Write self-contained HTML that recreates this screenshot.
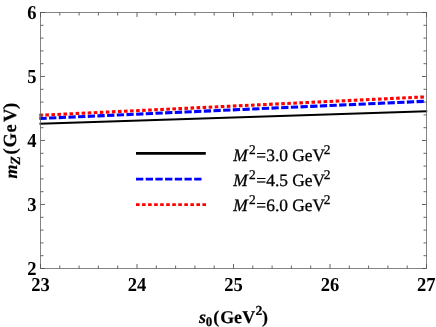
<!DOCTYPE html>
<html>
<head>
<meta charset="utf-8">
<style>
html,body{margin:0;padding:0;background:#fff;}
body{width:436px;height:327px;overflow:hidden;font-family:"Liberation Serif",serif;}
svg{display:block;}
text{font-family:"Liberation Serif",serif;fill:#000;text-rendering:geometricPrecision;}
.tl{font-weight:bold;font-size:19.7px;}
.lb{font-weight:bold;font-size:17.9px;stroke:#000;stroke-width:0.2px;}
.lg{font-size:17.4px;stroke:#000;stroke-width:0.3px;}
</style>
</head>
<body>
<svg width="436" height="327" viewBox="0 0 436 327">
<defs><filter id="sf" x="0" y="0" width="436" height="327" filterUnits="userSpaceOnUse"><feGaussianBlur stdDeviation="0.3"/></filter></defs>
<rect x="0" y="0" width="436" height="327" fill="#fff"/>
<!-- curves -->
<line x1="39.5" y1="123.7" x2="427.2" y2="111.3" stroke="#000" stroke-width="1.9"/>
<line x1="39.4" y1="118.5" x2="424.3" y2="101.32" stroke="#0000ff" stroke-width="3.1" stroke-dasharray="7.3 2.38"/>
<line x1="39.3" y1="115.3" x2="424.6" y2="96.91" stroke="#ff0000" stroke-width="3.1" stroke-dasharray="3.6 2.455"/>
<!-- frame -->
<g filter="url(#sf)">
<rect x="40.5" y="12.5" width="386" height="256" fill="none" stroke="#666" stroke-width="0.8"/>
<path d="M40.5 268.5v-4.5M40.5 12.5v4.5M59.8 268.5v-3.0M59.8 12.5v3.0M79.1 268.5v-3.0M79.1 12.5v3.0M98.4 268.5v-3.0M98.4 12.5v3.0M117.7 268.5v-3.0M117.7 12.5v3.0M137.0 268.5v-4.5M137.0 12.5v4.5M156.3 268.5v-3.0M156.3 12.5v3.0M175.6 268.5v-3.0M175.6 12.5v3.0M194.9 268.5v-3.0M194.9 12.5v3.0M214.2 268.5v-3.0M214.2 12.5v3.0M233.5 268.5v-4.5M233.5 12.5v4.5M252.8 268.5v-3.0M252.8 12.5v3.0M272.1 268.5v-3.0M272.1 12.5v3.0M291.4 268.5v-3.0M291.4 12.5v3.0M310.7 268.5v-3.0M310.7 12.5v3.0M330.0 268.5v-4.5M330.0 12.5v4.5M349.3 268.5v-3.0M349.3 12.5v3.0M368.6 268.5v-3.0M368.6 12.5v3.0M387.9 268.5v-3.0M387.9 12.5v3.0M407.2 268.5v-3.0M407.2 12.5v3.0M426.5 268.5v-4.5M426.5 12.5v4.5M40.5 12.5h4.5M426.5 12.5h-4.5M40.5 25.3h3.0M426.5 25.3h-3.0M40.5 38.1h3.0M426.5 38.1h-3.0M40.5 50.9h3.0M426.5 50.9h-3.0M40.5 63.7h3.0M426.5 63.7h-3.0M40.5 76.5h4.5M426.5 76.5h-4.5M40.5 89.3h3.0M426.5 89.3h-3.0M40.5 102.1h3.0M426.5 102.1h-3.0M40.5 114.9h3.0M426.5 114.9h-3.0M40.5 127.7h3.0M426.5 127.7h-3.0M40.5 140.5h4.5M426.5 140.5h-4.5M40.5 153.3h3.0M426.5 153.3h-3.0M40.5 166.1h3.0M426.5 166.1h-3.0M40.5 178.9h3.0M426.5 178.9h-3.0M40.5 191.7h3.0M426.5 191.7h-3.0M40.5 204.5h4.5M426.5 204.5h-4.5M40.5 217.3h3.0M426.5 217.3h-3.0M40.5 230.1h3.0M426.5 230.1h-3.0M40.5 242.9h3.0M426.5 242.9h-3.0M40.5 255.7h3.0M426.5 255.7h-3.0M40.5 268.5h4.5M426.5 268.5h-4.5" stroke="#555" stroke-width="0.9" fill="none"/>
</g>
<!-- legend lines -->
<line x1="136" y1="153.3" x2="205.8" y2="153.3" stroke="#000" stroke-width="2.7"/>
<line x1="136" y1="179.15" x2="203" y2="179.15" stroke="#0000ff" stroke-width="2.6" stroke-dasharray="7.3 2.4"/>
<line x1="136" y1="204.6" x2="206" y2="204.6" stroke="#ff0000" stroke-width="2.6" stroke-dasharray="3.6 2.44"/>
<g filter="url(#sf)">
<!-- legend text -->
<g class="lg">
<text y="160.7"><tspan x="233.3" font-style="italic">M</tspan><tspan x="248.9" dy="-7.0" font-size="13.4px">2</tspan><tspan x="256.3" dy="7.0">=</tspan><tspan x="266.2">3.0 GeV</tspan><tspan x="323.8" dy="-7.0" font-size="13.4px">2</tspan></text>
<text y="186"><tspan x="233.3" font-style="italic">M</tspan><tspan x="248.9" dy="-7.0" font-size="13.4px">2</tspan><tspan x="256.3" dy="7.0">=</tspan><tspan x="266.2">4.5 GeV</tspan><tspan x="323.8" dy="-7.0" font-size="13.4px">2</tspan></text>
<text y="211.2"><tspan x="233.3" font-style="italic">M</tspan><tspan x="248.9" dy="-7.0" font-size="13.4px">2</tspan><tspan x="256.3" dy="7.0">=</tspan><tspan x="266.2">6.0 GeV</tspan><tspan x="323.8" dy="-7.0" font-size="13.4px">2</tspan></text>
</g>
<!-- tick labels -->
<g class="tl" text-anchor="middle">
<text transform="translate(40.5,290.7) scale(0.94,1)">23</text>
<text transform="translate(137,290.7) scale(0.94,1)">24</text>
<text transform="translate(233.5,290.7) scale(0.94,1)">25</text>
<text transform="translate(330,290.7) scale(0.94,1)">26</text>
<text transform="translate(426.2,290.7) scale(0.94,1)">27</text>
</g>
<g class="tl" text-anchor="end">
<text transform="translate(36.5,19.2) scale(0.94,1)">6</text>
<text transform="translate(36.5,83.2) scale(0.94,1)">5</text>
<text transform="translate(36.5,147.2) scale(0.94,1)">4</text>
<text transform="translate(36.5,211.2) scale(0.94,1)">3</text>
<text transform="translate(36.5,275.2) scale(0.94,1)">2</text>
</g>
<!-- axis labels -->
<text class="lb" y="322.9"><tspan x="199" font-style="italic">s</tspan><tspan x="205.8" dy="2.9" font-size="13px">0</tspan><tspan x="213.3 220.2 234.1 242.3" dy="-2.9">(GeV</tspan><tspan x="255.6" dy="-8.0" font-size="13.8px">2</tspan><tspan x="262.1" dy="8.0">)</tspan></text>
<text class="lb" transform="translate(16.8,178.4) rotate(-90)"><tspan x="0" font-style="italic">m</tspan><tspan x="13.7" dy="3" font-size="14px" font-style="italic">Z</tspan><tspan x="23.8 30.8 45.8 56.3 69.5" dy="-3.5" font-size="18.6px">(GeV)</tspan></text>
</g>
</svg>
</body>
</html>
